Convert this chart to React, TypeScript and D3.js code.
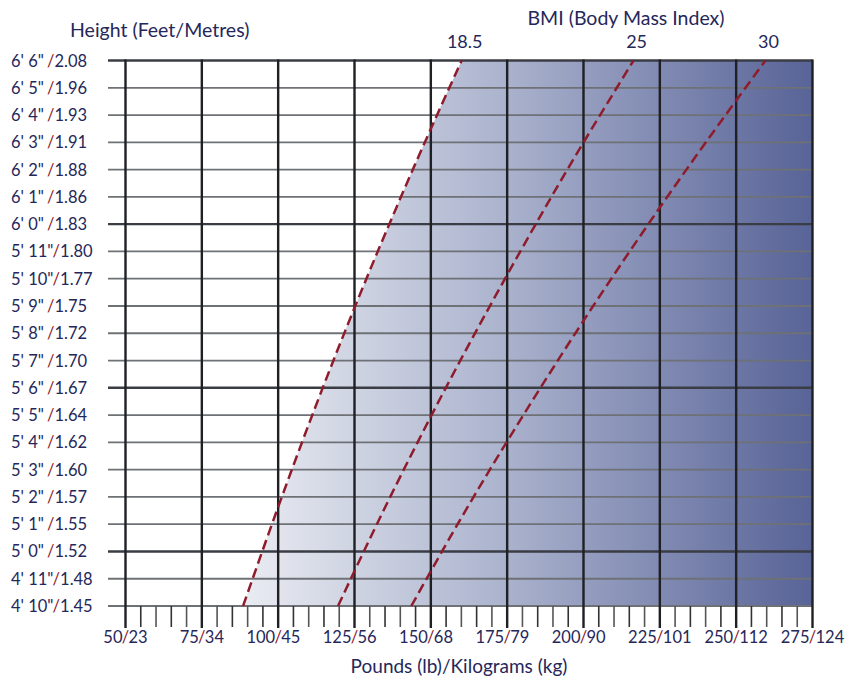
import React from "react";
import * as d3 from "d3";

const feetLabels = [`6' 6"`, `6' 5"`, `6' 4"`, `6' 3"`, `6' 2"`, `6' 1"`, `6' 0"`, `5' 11"`, `5' 10"`, `5' 9"`, `5' 8"`, `5' 7"`, `5' 6"`, `5' 5"`, `5' 4"`, `5' 3"`, `5' 2"`, `5' 1"`, `5' 0"`, `4' 11"`, `4' 10"`];
const metreLabels = ["2.08", "1.96", "1.93", "1.91", "1.88", "1.86", "1.83", "1.80", "1.77", "1.75", "1.72", "1.70", "1.67", "1.64", "1.62", "1.60", "1.57", "1.55", "1.52", "1.48", "1.45"];
const heightInches = [78, 77, 76, 75, 74, 73, 72, 71, 70, 69, 68, 67, 66, 65, 64, 63, 62, 61, 60, 59, 58];
const poundTicks = [50, 75, 100, 125, 150, 175, 200, 225, 250, 275];
const kiloLabels = ["23", "34", "45", "56", "68", "79", "90", "101", "112", "124"];
const bmiLabels = ["18.5", "25", "30"];

// weight (lb) of each BMI line, read at these heights (inches)
const curveHeights = [58, 62, 66, 70, 74, 78];
const bmi185 = [88.5, 101.2, 114.6, 128.9, 144.1, 160.1];
const bmi25 = [119.6, 136.7, 154.9, 174.3, 194.7, 216.4];
const bmi30 = [143.6, 164.0, 185.9, 209.1, 233.7, 259.6];

const W = 862;
const H = 684;
const left = 125.5;
const right = 812.5;
const top = 60.5;
const bottom = 606;
const textColor = "#25275a";
const red = "#8e1c2c";
const font = "Lato, 'Open Sans', sans-serif";

export default function App() {
  const x = d3.scaleLinear().domain([50, 275]).range([left, right]);
  const y = d3.scaleLinear().domain([58, 78]).range([bottom, top]);

  const curves = [bmi185, bmi25, bmi30].map((ws) => curveHeights.map((h, i) => ({ h, w: ws[i] })));

  const line = d3
    .line<{ h: number; w: number }>()
    .x((d) => x(d.w))
    .y((d) => y(d.h))
    .curve(d3.curveMonotoneY);

  const area = d3
    .area<{ h: number; w: number }>()
    .y((d) => y(d.h))
    .x0((d) => x(d.w))
    .x1(right)
    .curve(d3.curveMonotoneY);

  const minorTicks = d3.range(50, 276, 5);

  return (
    <svg width={W} height={H} style={{ position: "absolute", left: 0, top: 0, background: "#fff" }}>
      <defs>
        <linearGradient id="bg" gradientUnits="userSpaceOnUse" x1={235} x2={right} y1={0} y2={0}>
          <stop offset="0" stopColor="#eceef3" />
          <stop offset="0.45" stopColor="#adb5cf" />
          <stop offset="1" stopColor="#586397" />
        </linearGradient>
      </defs>

      <path d={area(curves[0]) || ""} fill="url(#bg)" />

      {/* horizontal grid lines */}
      {heightInches.map((h) => {
        const major = (h - 78) % 6 === 0;
        return (
          <line
            key={"h" + h}
            x1={108}
            x2={right}
            y1={y(h)}
            y2={y(h)}
            stroke={major ? "#3a3d44" : "#6e7176"}
            strokeWidth={major ? 2.4 : 1.8}
          />
        );
      })}

      {/* minor ticks */}
      {minorTicks.map((p) =>
        p % 25 === 0 ? null : (
          <line key={"t" + p} x1={x(p)} x2={x(p)} y1={bottom} y2={627} stroke={p % 10 === 0 ? "#555" : "#333"} strokeWidth={1.6} />
        )
      )}

      {/* major vertical lines */}
      {poundTicks.map((p) => (
        <line key={"v" + p} x1={x(p)} x2={x(p)} y1={top - 1} y2={628} stroke="#1f2024" strokeWidth={2.4} />
      ))}

      {/* BMI dashed curves */}
      {curves.map((c, i) => (
        <path key={"c" + i} d={line(c) || ""} fill="none" stroke={red} strokeWidth={2.5} strokeDasharray="10 5" />
      ))}

      {/* y labels */}
      {feetLabels.map((f, i) => (
        <text key={"y" + i} x={11} y={y(heightInches[i]) + 6} fontFamily={font} fontSize={16.5} fill={textColor}>
          <tspan>{f}</tspan>
          <tspan fill={red} dx={f.length > 5 ? 0 : 4}>/</tspan>
          <tspan>{metreLabels[i]}</tspan>
        </text>
      ))}

      {/* x labels */}
      {poundTicks.map((p, i) => (
        <g key={"x" + p} fontFamily={font} fontSize={16.5} fill={textColor}>
          <text x={x(p) - 3} y={643} textAnchor="end">{p}</text>
          <text x={x(p)} y={643} textAnchor="middle" fill={red}>/</text>
          <text x={x(p) + 3} y={643} textAnchor="start">{kiloLabels[i]}</text>
        </g>
      ))}

      {/* BMI labels */}
      {bmiLabels.map((b, i) => (
        <text key={"b" + b} x={x(curves[i][curves[i].length - 1].w) + 3} y={48} textAnchor="middle" fontFamily={font} fontSize={18} fill={textColor}>
          {b}
        </text>
      ))}

      <text x={70} y={37} fontFamily={font} fontSize={19.5} fill={textColor}>Height (Feet/Metres)</text>
      <text x={626} y={25} textAnchor="middle" fontFamily={font} fontSize={19.5} fill={textColor}>BMI (Body Mass Index)</text>
      <text x={459} y={673} textAnchor="middle" fontFamily={font} fontSize={19} fill={textColor}>Pounds (lb)/Kilograms (kg)</text>
    </svg>
  );
}
